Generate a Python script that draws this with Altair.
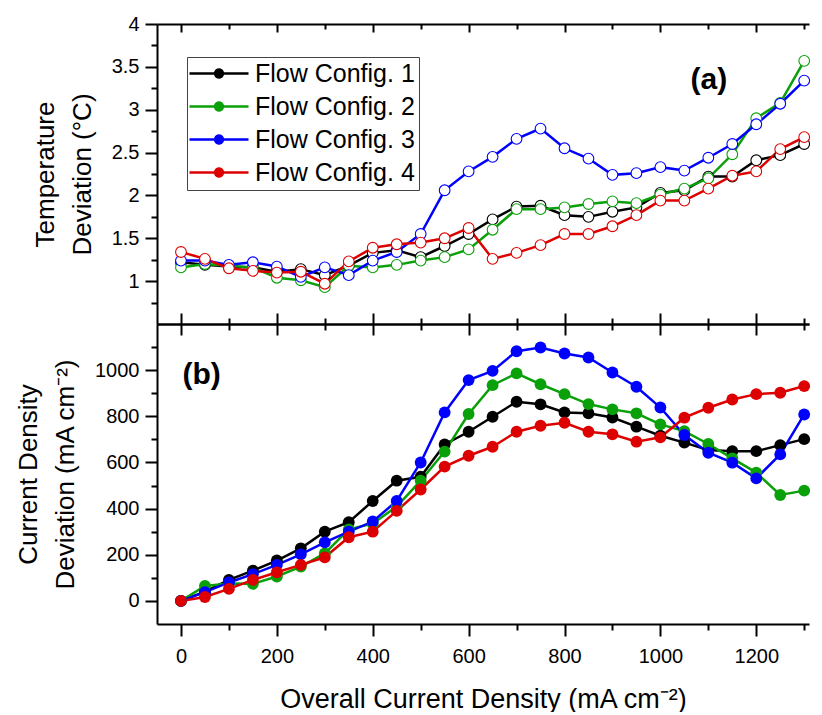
import math
import altair as alt
import pandas as pd

# ---------------- data ----------------
x_vals = [0, 50, 100, 150, 200, 250, 300, 350, 400, 450, 500, 550, 600, 650,
          700, 750, 800, 850, 900, 950, 1000, 1050, 1100, 1150, 1200, 1250, 1300]
configs = ["Flow Config. 1", "Flow Config. 2", "Flow Config. 3", "Flow Config. 4"]
colors = ["#000000", "#0aa00a", "#0000ff", "#dd0000"]

temp_c1 = [1.22, 1.19, 1.17, 1.16, 1.11, 1.14, 1.07, 1.18, 1.33, 1.36, 1.28, 1.41, 1.55, 1.72,
           1.87, 1.88, 1.77, 1.75, 1.81, 1.86, 2.03, 2.06, 2.22, 2.22, 2.41, 2.47, 2.60]
temp_c2 = [1.16, 1.20, 1.18, 1.16, 1.04, 1.01, 0.93, 1.18, 1.16, 1.19, 1.24, 1.28, 1.37, 1.60,
           1.84, 1.84, 1.86, 1.90, 1.93, 1.91, 2.01, 2.08, 2.20, 2.48, 2.90, 3.08, 3.57]
temp_c3 = [1.24, 1.24, 1.19, 1.22, 1.17, 1.05, 1.16, 1.07, 1.24, 1.34, 1.55, 2.06, 2.28, 2.45,
           2.66, 2.78, 2.55, 2.43, 2.24, 2.26, 2.33, 2.29, 2.44, 2.60, 2.83, 3.07, 3.34]
temp_c4 = [1.34, 1.26, 1.15, 1.12, 1.10, 1.11, 0.97, 1.23, 1.39, 1.43, 1.45, 1.50, 1.62, 1.26,
           1.33, 1.42, 1.55, 1.55, 1.64, 1.77, 1.94, 1.94, 2.08, 2.23, 2.28, 2.54, 2.68]

cur_c1 = [0, 40, 91, 131, 175, 228, 300, 341, 433, 521, 538, 678, 733, 798,
          863, 852, 817, 813, 795, 755, 716, 686, 654, 649, 649, 675, 701]
cur_c2 = [0, 65, 75, 74, 106, 149, 206, 310, 335, 409, 521, 647, 810, 935,
          986, 939, 896, 853, 830, 813, 765, 736, 680, 618, 556, 459, 478]
cur_c3 = [0, 38, 80, 116, 156, 202, 254, 300, 344, 433, 600, 817, 957, 997,
          1082, 1098, 1072, 1055, 990, 928, 838, 719, 642, 599, 531, 635, 808]
cur_c4 = [0, 17, 52, 91, 124, 156, 189, 276, 300, 390, 483, 582, 629, 668,
          733, 759, 772, 733, 722, 690, 709, 794, 837, 873, 896, 902, 931]

x_major = [0, 200, 400, 600, 800, 1000, 1200]
x_minor = [100, 300, 500, 700, 900, 1100, 1300]
yt_major = [1, 1.5, 2, 2.5, 3, 3.5, 4]
yt_minor = [0.75, 1.25, 1.75, 2.25, 2.75, 3.25, 3.75]
yb_major = [0, 200, 400, 600, 800, 1000]
yb_minor = [100, 300, 500, 700, 900, 1100]


def long_frame(series_list):
    rows = []
    for name, ser in zip(configs, series_list):
        for xv, yv in zip(x_vals, ser):
            rows.append({"x": xv, "y": yv, "Config": name})
    return pd.DataFrame(rows)


df_t = long_frame([temp_c1, temp_c2, temp_c3, temp_c4])
df_b = long_frame([cur_c1, cur_c2, cur_c3, cur_c4])

FONT = "Liberation Sans"
W, H = 652, 300
xs = alt.Scale(domain=[-50, 1310], nice=False, zero=False)
yts = alt.Scale(domain=[0.5, 4], nice=False, zero=False)
ybs = alt.Scale(domain=[-100, 1200], nice=False, zero=False)
cs = alt.Scale(domain=configs, range=colors)

# legend symbol: a filled bar (the line) plus a filled dot (polygon)
_x0, _x1 = -3.5, 11.25
_cx, _r = (_x0 + _x1) / 2, 1.3
_pts = [(_cx + _r * math.cos(2 * math.pi * k / 20), _r * math.sin(2 * math.pi * k / 20))
        for k in range(20)]
SYM = (f"M{_x0},-0.3L{_x1},-0.3L{_x1},0.3L{_x0},0.3Z M"
       + "L".join(f"{px:.3f},{py:.3f}" for px, py in _pts) + "Z")
LEGEND = alt.Legend(orient="none", legendX=30, legendY=33, title=None,
                    symbolType=SYM, symbolSize=64, symbolStrokeWidth=0,
                    labelFont=FONT, labelFontSize=25, labelColor="black",
                    labelOffset=39, labelLimit=400, rowPadding=7, padding=4,
                    strokeColor="#444444", fillColor="white")


def ax(orient, values=None, size=0, offset=0, domain=False, labels=False, title=None, **kw):
    args = dict(orient=orient, domain=domain, labels=labels, grid=False, offset=offset)
    if values is not None:
        args["values"] = values
        args["ticks"] = True
        args["tickSize"] = size
    else:
        args["ticks"] = False
    args["title"] = title
    args.update(kw)
    return alt.Axis(**args)


def panel(df, yscale, x_axes, y_axes, txt, txt_x, txt_y, open_pts, legend=None):
    layers = []
    for i, (xa, ya) in enumerate(zip(x_axes, y_axes)):
        enc = dict(
            x=alt.X("x:Q", scale=xs, axis=xa),
            y=alt.Y("y:Q", scale=yscale, axis=ya),
        )
        if i == 0:
            layers.append(alt.Chart(df).mark_line(strokeWidth=2.5).encode(
                stroke=alt.Stroke("Config:N", scale=cs, legend=None), **enc))
        elif i == 1:
            if open_pts:
                layers.append(alt.Chart(df).mark_point(
                    shape="circle", filled=False, fill="white", fillOpacity=1,
                    size=115, strokeWidth=1.1, opacity=1).encode(
                    stroke=alt.Stroke("Config:N", scale=cs, legend=None), **enc))
            else:
                layers.append(alt.Chart(df).mark_point(
                    shape="circle", filled=True, size=140, opacity=1).encode(
                    fill=alt.Fill("Config:N", scale=cs, legend=None), **enc))
        else:
            layers.append(alt.Chart(df).mark_point(opacity=0).encode(**enc))
    ann = pd.DataFrame({"x": [txt_x], "y": [txt_y], "t": [txt]})
    layers.append(alt.Chart(ann).mark_text(
        font=FONT, fontSize=30, fontWeight="bold", align="center", baseline="middle",
        color="black").encode(
        x=alt.X("x:Q", scale=xs, axis=None),
        y=alt.Y("y:Q", scale=yscale, axis=None),
        text="t:N"))
    if legend is not None:
        layers.append(alt.Chart(df).mark_point(
            shape="circle", filled=True, opacity=1).encode(
            x=alt.X("x:Q", scale=xs, axis=None),
            y=alt.Y("y:Q", scale=yscale, axis=None),
            color=alt.Color("Config:N", scale=cs, legend=legend),
        ).transform_filter("datum.x < -1000"))
    return alt.layer(*layers).resolve_axis(x="independent", y="independent").properties(
        width=W, height=H)


# top panel axes
top_x = [
    ax("top", domain=True),
    ax("top", x_major, 8, -8),
    ax("top", x_minor, 5, -5),
    ax("bottom", domain=True),
    ax("bottom", x_major, 11, -11),
    ax("bottom", x_minor, 6, -6),
]
top_y = [
    ax("left", yt_major, 12, 0, domain=True, labels=True,
       title=["Temperature", "Deviation (\u00b0C)"], format=".1~f",
       labelFontSize=20, labelPadding=6, titleFontSize=26, titleLineHeight=37,
       titlePadding=16),
    ax("left", yt_minor, 6, 0),
    None, None, None, None,
]

bot_x = [
    ax("bottom", x_major, 12, 0, domain=True, labels=True,
       title="Overall Current Density (mA cm\u207b\u00b2)", format="d",
       labelFontSize=20, labelPadding=10, titleFontSize=27, titlePadding=20),
    ax("bottom", x_minor, 6, 0),
    ax("top", domain=True),
    ax("top", x_major, 11, -11),
    ax("top", x_minor, 6, -6),
]
bot_y = [
    ax("left", yb_major, 12, 0, domain=True, labels=True,
       title=["Current Density", "Deviation (mA cm\u207b\u00b2)"], format="d",
       labelFontSize=20, labelPadding=6, titleFontSize=26, titleLineHeight=37,
       titlePadding=16),
    ax("left", yb_minor, 6, 0),
    None, None, None,
]

top = panel(df_t, yts, top_x, top_y, "(a)", 1101, 3.35, True, legend=LEGEND)
bottom = panel(df_b, ybs, bot_x, bot_y, "(b)", 43, 977, False)

chart = alt.vconcat(top, bottom, spacing=0, bounds="flush").resolve_scale(
    color="independent"
).properties(
    padding={"left": 7, "top": 6, "right": 0, "bottom": 0}
).configure_view(stroke=None).configure_axis(
    labelFont=FONT, titleFont=FONT, labelColor="black", titleColor="black",
    tickColor="black", domainColor="black", tickWidth=2, domainWidth=2,
    titleFontWeight="normal", grid=False
)

chart.save("out.html", embed_options={"renderer": "svg", "actions": False})
